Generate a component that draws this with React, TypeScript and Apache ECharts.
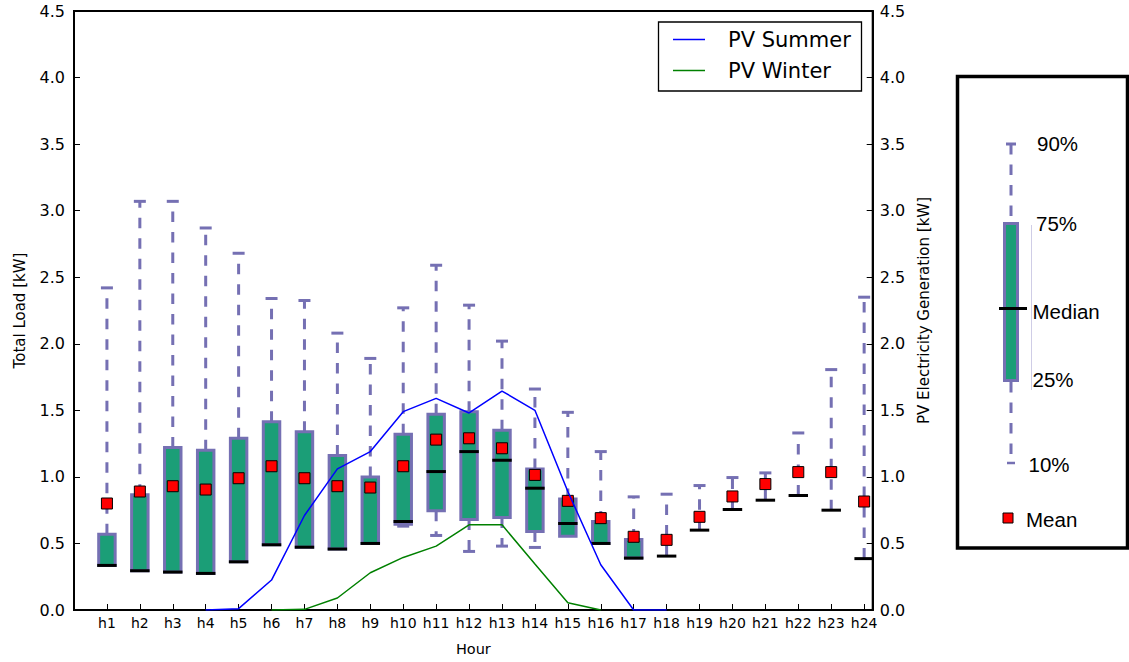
import React, { useEffect, useRef } from "react";
import * as echarts from "echarts";

const hours = ["h1","h2","h3","h4","h5","h6","h7","h8","h9","h10","h11","h12","h13","h14","h15","h16","h17","h18","h19","h20","h21","h22","h23","h24"];
const hourPos = [1,2,3,4,5,6,7,8,9,10,11,12,13,14,15,16,17,18,19,20,21,22,23,24];
const p10 = [0.335,0.295,0.285,0.275,0.362,0.49,0.472,0.458,0.50,0.63,0.56,0.44,0.48,0.47,0.554,0.50,0.39,0.405,0.60,0.755,0.825,0.86,0.75,0.386];
const q1 = [0.335,0.295,0.285,0.275,0.362,0.49,0.472,0.458,0.50,0.645,0.745,0.68,0.695,0.59,0.554,0.50,0.39,0.405,0.60,0.755,0.825,0.86,0.75,0.386];
const median = [0.335,0.295,0.285,0.275,0.362,0.49,0.472,0.458,0.50,0.665,1.04,1.19,1.125,0.915,0.65,0.50,0.39,0.405,0.60,0.755,0.825,0.86,0.75,0.386];
const q3 = [0.57,0.865,1.22,1.20,1.29,1.415,1.34,1.16,1.00,1.32,1.47,1.49,1.35,1.06,0.833,0.665,0.53,0.405,0.60,0.755,0.825,0.86,0.75,0.386];
const p90 = [2.42,3.07,3.07,2.87,2.68,2.34,2.325,2.08,1.89,2.27,2.59,2.29,2.02,1.66,1.485,1.19,0.85,0.87,0.935,0.995,1.03,1.33,1.806,2.35];
const means = [0.80,0.89,0.93,0.905,0.99,1.08,0.99,0.93,0.92,1.08,1.28,1.29,1.215,1.015,0.82,0.69,0.55,0.527,0.70,0.853,0.946,1.036,1.036,0.815];
const pvSummer: (number | null)[] = [null,null,null,0,0.01,0.225,0.71,1.06,1.19,1.49,1.59,1.48,1.645,1.50,0.89,0.34,0,0,null,null,null,null,null,null];
const pvWinter: (number | null)[] = [null,null,null,null,null,0,0.005,0.09,0.28,0.395,0.48,0.64,0.64,0.345,0.055,0,null,null,null,null,null,null,null,null];
const legendLabels = ["PV Summer", "PV Winter"];
const boxLegendLabels = ["90%", "75%", "Median", "25%", "10%", "Mean"];

const LAV = "#7570b3";
const GREEN = "#1b9e77";
const AXFONT = "DejaVu Sans";
const LEGFONT = "Liberation Sans";

export default function App() {
  const ref = useRef<HTMLDivElement>(null);
  useEffect(() => {
    if (!ref.current) return;
    const chart = echarts.init(ref.current, null, { renderer: "svg" });
    const boxData = hourPos.map((x, i) => [x, p10[i], q1[i], median[i], q3[i], p90[i]]);
    const meanData = hourPos.map((x, i) => [x, means[i]]);
    const toLine = (arr: (number | null)[]) =>
      hourPos.map((x, i) => [x, arr[i]]).filter((d) => d[1] !== null);

    const yAxisBase = {
      type: "value",
      min: 0,
      max: 4.5,
      interval: 0.5,
      axisLine: { show: true, onZero: false, lineStyle: { color: "#000", width: 2 } },
      axisTick: { show: true, inside: true, length: 6, lineStyle: { color: "#000", width: 1 } },
      splitLine: { show: false },
      nameLocation: "middle",
      nameRotate: 90,
      nameTextStyle: { fontSize: 15, fontFamily: AXFONT, color: "#000" },
    };

    const option: any = {
      animation: false,
      backgroundColor: "#fff",
      grid: {
        left: 74,
        top: 11,
        right: 256.3,
        bottom: 52,
        show: true,
        borderColor: "#000",
        borderWidth: 2,
        backgroundColor: "transparent",
      },
      xAxis: {
        type: "value",
        min: 0,
        max: 24.26,
        axisLine: { show: true, onZero: false, lineStyle: { color: "#000", width: 2 } },
        axisTick: { show: true, inside: true, length: 6, customValues: hourPos, lineStyle: { color: "#000", width: 1 } },
        axisLabel: {
          customValues: hourPos,
          formatter: (v: number) => hours[Math.round(v) - 1] ?? "",
          fontSize: 14,
          fontFamily: AXFONT,
          color: "#000",
          margin: 6,
        },
        splitLine: { show: false },
        name: "Hour",
        nameLocation: "middle",
        nameGap: 31,
        nameTextStyle: { fontSize: 14.5, fontFamily: AXFONT, color: "#000" },
      },
      yAxis: [
        {
          ...yAxisBase,
          position: "left",
          name: "Total Load [kW]",
          nameGap: 47,
          axisLabel: { formatter: (v: number) => v.toFixed(1), fontSize: 16, fontFamily: AXFONT, color: "#000", margin: 9 },
        },
        {
          ...yAxisBase,
          position: "right",
          name: "PV Electricity Generation [kW]",
          nameGap: 41,
          axisLabel: { formatter: (v: number) => v.toFixed(1), fontSize: 16, fontFamily: AXFONT, color: "#000", margin: 7 },
        },
      ],
      series: [
        {
          type: "custom",
          name: "Total Load",
          xAxisIndex: 0,
          yAxisIndex: 0,
          encode: { x: 0, y: [1, 2, 3, 4, 5] },
          data: boxData,
          z: 2,
          renderItem: (params: any, api: any) => {
            const x = api.value(0);
            const lo = api.value(1);
            const b1 = api.value(2);
            const md = api.value(3);
            const b3 = api.value(4);
            const hi = api.value(5);
            const cx = api.coord([x, 0])[0];
            const y = (v: number) => api.coord([x, v])[1];
            const halfBox = api.size([0.5, 0])[0] / 2;
            const halfMed = halfBox + 1.5;
            const capHalf = 6;
            const dashStyle = { stroke: LAV, lineWidth: 3, lineDash: [10.5, 10], fill: null };
            const capStyle = { stroke: LAV, lineWidth: 3, fill: null };
            const children: any[] = [];
            if (hi > b3) {
              children.push({ type: "line", shape: { x1: cx, y1: y(b3), x2: cx, y2: y(hi) }, style: dashStyle });
              children.push({ type: "line", shape: { x1: cx - capHalf, y1: y(hi), x2: cx + capHalf, y2: y(hi) }, style: capStyle });
            }
            if (lo < b1) {
              children.push({ type: "line", shape: { x1: cx, y1: y(b1), x2: cx, y2: y(lo) }, style: dashStyle });
              children.push({ type: "line", shape: { x1: cx - capHalf, y1: y(lo), x2: cx + capHalf, y2: y(lo) }, style: capStyle });
            }
            if (b3 > b1) {
              children.push({
                type: "rect",
                shape: { x: cx - halfBox, y: y(b3), width: 2 * halfBox, height: y(b1) - y(b3) },
                style: { fill: GREEN, stroke: LAV, lineWidth: 3 },
              });
            }
            children.push({
              type: "line",
              shape: { x1: cx - halfMed, y1: y(md), x2: cx + halfMed, y2: y(md) },
              style: { stroke: "#000", lineWidth: 3, fill: null },
            });
            return { type: "group", children };
          },
        },
        {
          type: "scatter",
          name: "Mean",
          xAxisIndex: 0,
          yAxisIndex: 0,
          data: meanData,
          symbol: "rect",
          symbolSize: 11,
          itemStyle: { color: "#ff0000", borderColor: "#000", borderWidth: 1, opacity: 1 },
          z: 3,
        },
        {
          type: "line",
          name: legendLabels[0],
          xAxisIndex: 0,
          yAxisIndex: 1,
          data: toLine(pvSummer),
          showSymbol: false,
          symbol: "none",
          lineStyle: { color: "#0000ff", width: 1.5 },
          itemStyle: { color: "#0000ff" },
          z: 4,
        },
        {
          type: "line",
          name: legendLabels[1],
          xAxisIndex: 0,
          yAxisIndex: 1,
          data: toLine(pvWinter),
          showSymbol: false,
          symbol: "none",
          lineStyle: { color: "#008000", width: 1.5 },
          itemStyle: { color: "#008000" },
          z: 4,
        },
      ],
      graphic: [
        // top legend
        { type: "rect", shape: { x: 658.5, y: 22, width: 203, height: 69 }, style: { fill: "#fff", stroke: "#000", lineWidth: 1.3 }, z: 100 },
        { type: "line", shape: { x1: 673, y1: 39.5, x2: 705, y2: 39.5 }, style: { stroke: "#0000ff", lineWidth: 1.5 }, z: 101 },
        { type: "line", shape: { x1: 673, y1: 70.5, x2: 705, y2: 70.5 }, style: { stroke: "#008000", lineWidth: 1.5 }, z: 101 },
        { type: "text", x: 728, y: 40, style: { text: legendLabels[0], fontSize: 21, fontFamily: AXFONT, fill: "#000", verticalAlign: "middle", align: "left" }, z: 101 },
        { type: "text", x: 728, y: 71, style: { text: legendLabels[1], fontSize: 21, fontFamily: AXFONT, fill: "#000", verticalAlign: "middle", align: "left" }, z: 101 },
        // right box legend
        { type: "rect", shape: { x: 957.5, y: 76.5, width: 170, height: 471.5 }, style: { fill: "#fff", stroke: "#000", lineWidth: 3.5 }, z: 100 },
        { type: "line", shape: { x1: 1011, y1: 144, x2: 1011, y2: 222 }, style: { stroke: LAV, lineWidth: 3, lineDash: [10.5, 10] }, z: 101 },
        { type: "line", shape: { x1: 1006, y1: 144, x2: 1016, y2: 144 }, style: { stroke: LAV, lineWidth: 3 }, z: 101 },
        { type: "line", shape: { x1: 1011, y1: 382, x2: 1011, y2: 463 }, style: { stroke: LAV, lineWidth: 3, lineDash: [10.5, 10] }, z: 101 },
        { type: "line", shape: { x1: 1007, y1: 463, x2: 1015, y2: 463 }, style: { stroke: LAV, lineWidth: 2.5 }, z: 101 },
        { type: "rect", shape: { x: 1004.5, y: 223.5, width: 13, height: 157 }, style: { fill: GREEN, stroke: LAV, lineWidth: 3 }, z: 102 },
        { type: "line", shape: { x1: 999, y1: 308.5, x2: 1027, y2: 308.5 }, style: { stroke: "#000", lineWidth: 3 }, z: 103 },
        { type: "line", shape: { x1: 1031.5, y1: 225, x2: 1031.5, y2: 390 }, style: { stroke: "#cfcde6", lineWidth: 1 }, z: 101 },
        { type: "rect", shape: { x: 1003, y: 513, width: 10, height: 10 }, style: { fill: "#ff0000", stroke: "#000", lineWidth: 1 }, z: 101 },
        { type: "text", x: 1037, y: 143, style: { text: boxLegendLabels[0], fontSize: 20.5, fontFamily: LEGFONT, fill: "#000", verticalAlign: "middle" }, z: 101 },
        { type: "text", x: 1036, y: 223, style: { text: boxLegendLabels[1], fontSize: 20.5, fontFamily: LEGFONT, fill: "#000", verticalAlign: "middle" }, z: 101 },
        { type: "text", x: 1032.5, y: 311, style: { text: boxLegendLabels[2], fontSize: 20.5, fontFamily: LEGFONT, fill: "#000", verticalAlign: "middle" }, z: 101 },
        { type: "text", x: 1032.5, y: 379, style: { text: boxLegendLabels[3], fontSize: 20.5, fontFamily: LEGFONT, fill: "#000", verticalAlign: "middle" }, z: 101 },
        { type: "text", x: 1028.5, y: 464, style: { text: boxLegendLabels[4], fontSize: 20.5, fontFamily: LEGFONT, fill: "#000", verticalAlign: "middle" }, z: 101 },
        { type: "text", x: 1026, y: 519, style: { text: boxLegendLabels[5], fontSize: 20.5, fontFamily: LEGFONT, fill: "#000", verticalAlign: "middle" }, z: 101 },
      ],
    };
    chart.setOption(option);
    return () => chart.dispose();
  }, []);
  return (
    <div
      ref={ref}
      style={{ position: "absolute", left: 0, top: 0, width: 1129, height: 662, background: "#fff" }}
    />
  );
}
